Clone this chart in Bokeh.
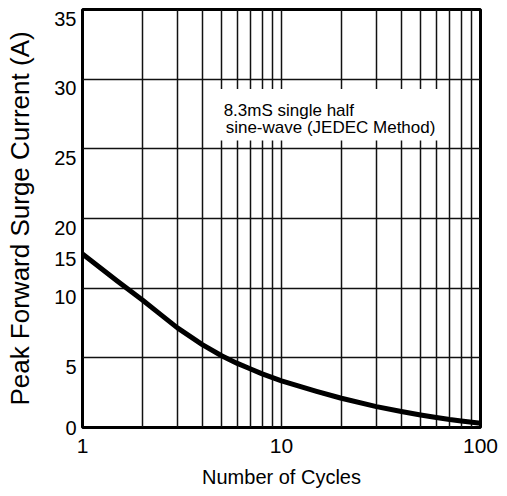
from bokeh.plotting import figure
from bokeh.models import Range1d, FixedTicker
from bokeh.core.properties import value
from bokeh.embed import file_html
from bokeh.resources import INLINE

# ---- data ----
cycles = [1, 1.5, 2, 2.5, 3, 4, 5, 6, 7, 8, 10, 15, 20, 30, 40, 50, 60, 70, 80, 100]
# curve height in grid units (one horizontal grid division = 5 units)
surge = [12.45, 10.5, 9.15, 8.05, 7.15, 5.95, 5.15, 4.6, 4.2, 3.85, 3.35,
         2.6, 2.1, 1.5, 1.15, 0.9, 0.72, 0.57, 0.47, 0.3]

y_grid = [0, 5, 10, 15, 20, 25, 30]
y_grid_labels = ["0", "5", "10", "20", "25", "30", "35"]
extra_y_pos = 12.1
extra_y_label = "15"

x_grid = [2, 3, 4, 5, 6, 7, 8, 9, 10, 20, 30, 40, 50, 60, 70, 80, 90]
x_ticks = [1, 10, 100]

note_lines = ["8.3mS single half", "sine-wave (JEDEC Method)"]
note_x = [5.12, 5.24]
note_y = [22.78, 21.53]
note_box = dict(left=4.41, right=65.0, bottom=20.6, top=24.3)

SANS = "Liberation Sans"

p = figure(frame_width=398, frame_height=418, x_axis_type="log",
           x_range=Range1d(1, 100), y_range=Range1d(0, 30),
           output_backend="svg", toolbar_location=None,
           min_border_left=82, min_border_right=19,
           min_border_top=9, min_border_bottom=61)

p.background_fill_color = "white"
p.border_fill_color = "white"
p.outline_line_color = "black"
p.outline_line_width = 3

# grids
p.xgrid.ticker = FixedTicker(ticks=x_grid)
p.ygrid.ticker = FixedTicker(ticks=y_grid)
for g in (p.xgrid, p.ygrid):
    g.grid_line_color = "#111111"
    g.grid_line_width = 1.5
    g.grid_line_alpha = 1.0

# x axis
xa = p.xaxis[0]
xa.ticker = FixedTicker(ticks=x_ticks)
xa.major_label_overrides = {1: "1", 10: "10", 100: "100"}
xa.axis_line_color = None
xa.major_tick_line_color = None
xa.minor_tick_line_color = None
xa.major_label_standoff = 5
xa.major_label_text_font = SANS
xa.major_label_text_font_size = "21px"
xa.major_label_text_color = "black"
xa.axis_label = "Number of Cycles"
xa.axis_label_text_font = SANS
xa.axis_label_text_font_size = "20px"
xa.axis_label_text_font_style = "normal"
xa.axis_label_text_color = "black"
xa.axis_label_standoff = 10

# y axis (labels sit just below their grid lines; "0" stays on the frame edge)
ya = p.yaxis[0]
shift = 0.65
y_tick_pos = [y_grid[0]] + [g - shift for g in y_grid[1:]] + [extra_y_pos]
y_tick_lab = y_grid_labels + [extra_y_label]
ya.ticker = FixedTicker(ticks=y_tick_pos)
ya.major_label_overrides = {pos: lab for pos, lab in zip(y_tick_pos, y_tick_lab)}
ya.axis_line_color = None
ya.major_tick_line_color = None
ya.minor_tick_line_color = None
ya.major_tick_out = 0
ya.major_tick_in = 0
ya.major_label_standoff = 6
ya.major_label_text_font = SANS
ya.major_label_text_font_size = "20px"
ya.major_label_text_color = "black"
ya.axis_label = "Peak Forward Surge Current (A)"
ya.axis_label_text_font = SANS
ya.axis_label_text_font_size = "26px"
ya.axis_label_text_font_style = "normal"
ya.axis_label_text_color = "black"
ya.axis_label_standoff = 16

# note box (white, hides the grid lines)
p.quad(left=[note_box["left"]], right=[note_box["right"]],
       bottom=[note_box["bottom"]], top=[note_box["top"]],
       fill_color="white", line_color=None)
p.text(x=note_x, y=note_y, text=note_lines, text_font=value(SANS),
       text_font_size="17px", text_color="black",
       text_baseline="alphabetic", text_align="left")

# curve
p.line(cycles, surge, line_color="black", line_width=5, line_join="round")

open("out.html", "w").write(file_html(p, INLINE))
